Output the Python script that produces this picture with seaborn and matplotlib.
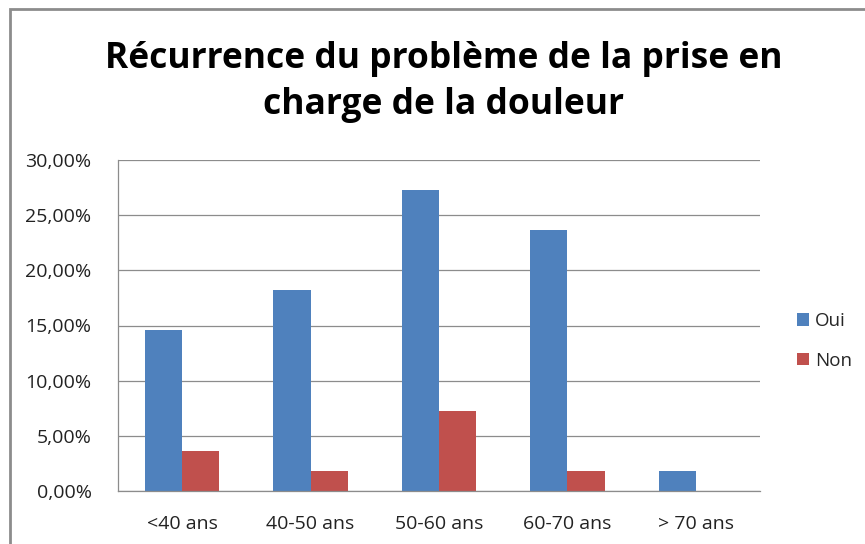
import matplotlib
matplotlib.use("Agg")
import matplotlib.pyplot as plt
import seaborn as sns
import pandas as pd
from matplotlib.ticker import FuncFormatter, MultipleLocator
from matplotlib.patches import Rectangle

categories = ["<40 ans", "40-50 ans", "50-60 ans", "60-70 ans", "> 70 ans"]
oui = [14.55, 18.18, 27.27, 23.64, 1.82]
non = [3.64, 1.82, 7.27, 1.82, 0.0]
series = ["Oui", "Non"]
colors = ["#4F81BD", "#C0504D"]

df = pd.DataFrame({
    "cat": categories * 2,
    "val": oui + non,
    "serie": ["Oui"] * len(categories) + ["Non"] * len(categories),
})

sns.set_style("white")
plt.rcParams["font.family"] = ["Open Sans", "DejaVu Sans"]

fig = plt.figure(figsize=(8.65, 5.44), dpi=100)
ax = fig.add_axes([118 / 865, 1 - 491 / 544, (760 - 118) / 865, (491 - 160) / 544])

sns.barplot(data=df, x="cat", y="val", hue="serie", hue_order=series,
            palette=colors, width=0.58, gap=0, ax=ax, saturation=1,
            linewidth=0, legend=True)

ax.set_ylim(0, 30)
ax.set_xlim(-0.5, len(categories) - 0.5)
ax.yaxis.set_major_locator(MultipleLocator(5))
ax.yaxis.set_major_formatter(FuncFormatter(lambda v, p: f"{v:.2f}%".replace(".", ",")))
ax.grid(axis="y", color="#8c8c8c", linewidth=0.9)
ax.set_axisbelow(True)
for s in ["top", "right"]:
    ax.spines[s].set_visible(False)
for s in ["left", "bottom"]:
    ax.spines[s].set_color("#8c8c8c")
    ax.spines[s].set_linewidth(0.9)
ax.set_xlabel("")
ax.set_ylabel("")
ax.tick_params(axis="both", length=0, labelsize=14, colors="#222222")
ax.tick_params(axis="y", pad=19)
ax.tick_params(axis="x", pad=17)

h, l = ax.get_legend_handles_labels()
ax.legend(h, l, loc="center left", bbox_to_anchor=(780 / 865, 1 - 341 / 544),
          bbox_transform=fig.transFigure, frameon=False, fontsize=13.5,
          handlelength=0.65, handleheight=0.65, handletextpad=0.3, labelspacing=1.15)

fig.text(444 / 865, 1 - 82 / 544,
         "Récurrence du problème de la prise en\ncharge de la douleur",
         ha="center", va="center", fontsize=25.5, fontweight="bold",
         linespacing=1.4, color="black")

fig.add_artist(Rectangle((10 / 865, -0.05), 1.0, 1 - 9 / 544 + 0.05,
                         transform=fig.transFigure, fill=False,
                         edgecolor="#8c8c8c", linewidth=2))

fig.savefig("out.png", dpi=100)
